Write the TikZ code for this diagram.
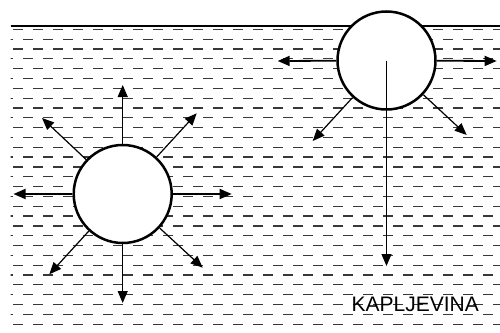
\documentclass[tikz,border=0pt]{standalone}
\usepackage{fontspec}
\setmainfont{Liberation Sans}
\usetikzlibrary{arrows.meta}
\begin{document}
\begin{tikzpicture}[x=1pt,y=-1pt,
  arr/.style={-{Triangle[length=12pt,width=10pt]}, line width=1.2pt},
  harr/.style={arr, line width=1.8pt},
  ball/.style={circle, draw, fill=white, line width=2.5pt, minimum size=98pt, inner sep=0pt},
  waterdash/.style={black!78, line width=1.2pt, dash pattern=on 9.5pt off 10.5pt}]
\useasboundingbox (0,0) rectangle (500,332);
\fill[white] (0,0) rectangle (500,332);
% dashed liquid
\begin{scope}
\clip (10.5,0) rectangle (500,332);
\foreach \k in {0,...,30}{
  \pgfmathsetmacro\yy{29.3+9.83*\k}
  \pgfmathsetmacro\xs{mod(\k,2)==0 ? 13.3 : 3.3}
  \draw[waterdash] (\xs,\yy) -- (505,\yy);
}
\end{scope}
% surface
\coordinate (S1) at (10.7,26);
\coordinate (S2) at (500,26);
\draw[line width=1.8pt] (S1) -- (S2);
% text
\node[inner sep=0pt, font=\fontsize{21}{25}\selectfont] (T) at (415.3,304.7) {KAPLJEVINA};
% left ball
\node[ball] (L) at (122.7,194) {};
\coordinate (Lu) at (122.7,85);
\coordinate (Ld) at (122.7,303);
\coordinate (Ll) at (13.5,194);
\coordinate (Lr) at (231.7,194);
\coordinate (Lul) at (42,118);
\coordinate (Lur) at (196.7,113.3);
\coordinate (Ldl) at (49.3,274.3);
\coordinate (Ldr) at (202.7,267.7);
\draw[arr] (L) -- (Lu);
\draw[arr] (L) -- (Ld);
\draw[harr] (L) -- (Ll);
\draw[harr] (L) -- (Lr);
\draw[arr] (L) -- (Lul);
\draw[arr] (L) -- (Lur);
\draw[arr] (L) -- (Ldl);
\draw[arr] (L) -- (Ldr);
% right ball
\node[ball] (R) at (386.5,60.5) {};
\coordinate (Rl) at (277.7,61);
\coordinate (Rr) at (496.7,61);
\coordinate (Rdl) at (312.7,141);
\coordinate (Rdr) at (466.7,135);
\coordinate (Rd) at (386.5,266);
\draw[harr] (R) -- (Rl);
\draw[harr] (R) -- (Rr);
\draw[arr] (R) -- (Rdl);
\draw[arr] (R) -- (Rdr);
\draw[arr, line width=1pt] (R.center) -- (Rd);
\end{tikzpicture}
\end{document}
